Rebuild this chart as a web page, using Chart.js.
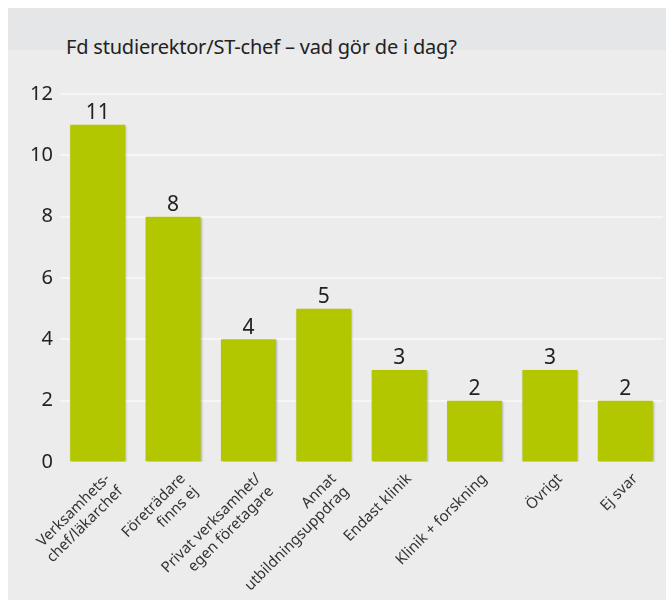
<!DOCTYPE html>
<html>
<head>
<meta charset="utf-8">
<script src="https://cdn.jsdelivr.net/npm/chart.js@4.4.0/dist/chart.umd.min.js"></script>
<style>
  html, body { margin: 0; padding: 0; background: #fff; }
  #panel {
    position: absolute; left: 8px; top: 8px; width: 658px; height: 592px;
    background: linear-gradient(#e5e6e7 0px, #e5e6e7 42px, #ececec 42px);
  }
  #title {
    position: absolute; left: 58px; top: 25px;
    font-family: "Noto Sans", sans-serif; font-size: 20px; color: #222;
    letter-spacing: -0.2px;
  }
  canvas { position: absolute; left: 0; top: 0; }
</style>
</head>
<body>
<div id="panel">
  <div id="title">Fd studierektor/ST-chef – vad gör de i dag?</div>
  <canvas id="chart" width="658" height="592"></canvas>
</div>
<script>
// kategorier och värden
const categories = [
    ['Verksamhets-', 'chef/läkarchef'],
    ['Företrädare', 'finns ej'],
    ['Privat verksamhet/', 'egen företagare'],
    ['Annat', 'utbildningsuppdrag'],
    'Endast klinik',
    'Klinik + forskning',
    'Övrigt',
    'Ej svar'
];
const values = [11, 8, 4, 5, 3, 2, 3, 2];
const yTicks = [0, 2, 4, 6, 8, 10, 12];

// skriver värdet ovanför varje stapel
const valueLabels = {
    id: 'valueLabels',
    afterDatasetsDraw(chart) {
        const ctx = chart.ctx;
        const meta = chart.getDatasetMeta(0);
        ctx.save();
        ctx.font = '21px "Noto Sans", sans-serif';
        ctx.fillStyle = '#222';
        ctx.textAlign = 'center';
        ctx.textBaseline = 'bottom';
        meta.data.forEach((bar, i) => {
            ctx.fillText(values[i], bar.x, bar.y - 1);
        });
        ctx.restore();
    }
};

// liten skugga bakom staplarna
const barShadow = {
    id: 'barShadow',
    beforeDatasetsDraw(chart) {
        const ctx = chart.ctx;
        ctx.save();
        ctx.shadowColor = 'rgba(0,0,0,0.25)';
        ctx.shadowBlur = 2;
        ctx.shadowOffsetX = 1;
        ctx.shadowOffsetY = 1;
    },
    afterDatasetsDraw(chart) {
        chart.ctx.restore();
    }
};

const ctx = document.getElementById('chart').getContext('2d');
const chart = new Chart(ctx, {
    type: 'bar',
    data: {
        labels: categories,
        datasets: [{
            data: values,
            backgroundColor: '#b3c700',
            barPercentage: 0.73,
            categoryPercentage: 1
        }]
    },
    options: {
        responsive: false,
        animation: false,
        layout: { padding: { top: 86, right: 3, left: 0, bottom: 0 } },
        plugins: {
            legend: { display: false },
            tooltip: { enabled: false }
        },
        scales: {
            x: {
                grid: { display: false },
                border: { display: false },
                afterFit(scale) { scale.height = 138; },
                ticks: {
                    color: '#333',
                    font: { family: '"Noto Sans", sans-serif', size: 15 },
                    minRotation: 45,
                    maxRotation: 45,
                    autoSkip: false,
                    labelOffset: 10,
                    padding: 0
                }
            },
            y: {
                min: 0,
                max: 12,
                afterFit(scale) { scale.width = 52; },
                afterBuildTicks(scale) { scale.ticks = yTicks.map(v => ({ value: v })); },
                border: { display: false },
                grid: {
                    drawTicks: false,
                    lineWidth: 2,
                    color: c => c.tick && c.tick.value === 0 ? 'rgba(0,0,0,0)' : '#f6f6f6'
                },
                ticks: {
                    color: '#222',
                    font: { family: '"Noto Sans", sans-serif', size: 20 },
                    padding: 7
                }
            }
        }
    },
    plugins: [barShadow, valueLabels]
});
</script>
</body>
</html>
